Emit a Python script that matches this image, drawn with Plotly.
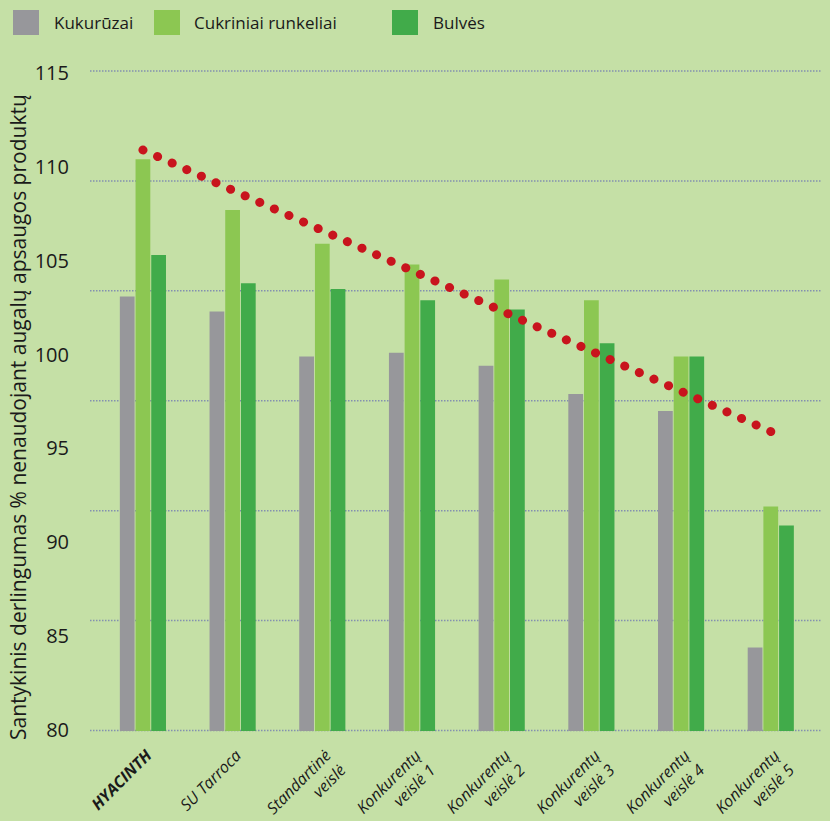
import plotly.graph_objects as go

categories = ["HYACINTH", "SU Tarroca", "Standartinė veislė", "Konkurentų veislė 1",
              "Konkurentų veislė 2", "Konkurentų veislė 3", "Konkurentų veislė 4",
              "Konkurentų veislė 5"]
tick_labels = ["<b>HYACINTH</b>", "SU Tarroca", "Standartinė<br>veislė",
               "Konkurentų<br>veislė 1", "Konkurentų<br>veislė 2", "Konkurentų<br>veislė 3",
               "Konkurentų<br>veislė 4", "Konkurentų<br>veislė 5"]
series_names = ["Kukurūzai", "Cukriniai runkeliai", "Bulvės"]
kukuruzai = [103.1, 102.3, 99.9, 100.1, 99.4, 97.9, 97.0, 84.4]
cukriniai = [110.4, 107.7, 105.9, 104.8, 104.0, 102.9, 99.9, 91.9]
bulves = [105.3, 103.8, 103.5, 102.9, 102.4, 100.6, 99.9, 90.9]
trend_x = [categories[0], categories[-1]]
trend_y = [110.9, 95.9]
y_ticks = [80, 85, 90, 95, 100, 105, 110, 115]
y_title = "Santykinis derlingumas % nenaudojant augalų apsaugos produktų"

colors = ["#97979b", "#8cc752", "#41ab4a"]
BG = "#c5e0a6"
FONT = "Open Sans"

W, H = 830, 821
ML, MR, MT, MB = 90, 9, 70, 90
PW, PH = W - ML - MR, H - MT - MB


def px_x(x):
    return (x - ML) / PW


def px_y(y):
    return (H - MB - y) / PH


fig = go.Figure()
for name, vals, col in zip(series_names, [kukuruzai, cukriniai, bulves], colors):
    fig.add_trace(go.Bar(x=categories, y=vals, name=name, marker_color=col,
                         marker_line_width=0, showlegend=False))

fig.add_trace(go.Scatter(x=trend_x, y=trend_y, mode="lines",
                         line=dict(color="#c8141d", width=9, dash="0.1px,15.9px"),
                         showlegend=False, hoverinfo="skip"))

# dotted horizontal guide lines (drawn behind the bars)
for k in range(7):
    gy = px_y(730.5 - k * 109.92)
    fig.add_shape(type="line", xref="paper", yref="paper", x0=0, x1=1, y0=gy, y1=gy,
                  layer="below", line=dict(color="#8390b0", width=1.5, dash="1.5px,1.5px"))

# custom legend (squares + labels)
leg_sq = [(13, 39), (154, 180), (392, 418)]
leg_tx = [52, 192, 431]
for (x0, x1), tx, name, col in zip(leg_sq, leg_tx, series_names, colors):
    fig.add_shape(type="rect", xref="paper", yref="paper",
                  x0=px_x(x0), x1=px_x(x1), y0=px_y(35), y1=px_y(10),
                  fillcolor=col, line_width=0)
    fig.add_annotation(xref="paper", yref="paper", x=px_x(tx), y=px_y(23),
                       xanchor="left", yanchor="middle", text=name, showarrow=False,
                       font=dict(family=FONT, size=17, color="#1a1a1a"))

fig.add_annotation(xref="paper", yref="paper", x=px_x(18), y=px_y(417),
                   text=y_title, textangle=-90, showarrow=False,
                   xanchor="center", yanchor="middle",
                   font=dict(family=FONT, size=21, color="#1a1a1a"))

fig.update_layout(
    width=W, height=H, autosize=False,
    margin=dict(l=ML, r=MR, t=MT, b=MB, autoexpand=False),
    paper_bgcolor=BG, plot_bgcolor=BG,
    barmode="group", bargap=0.475, bargroupgap=0.06,
    font=dict(family=FONT, color="#1a1a1a"),
    xaxis=dict(type="category", categoryorder="array", categoryarray=categories,
               range=[-0.59, 7.56], tickvals=categories, ticktext=tick_labels,
               tickangle=-45, showgrid=False, zeroline=False, showline=False,
               ticks="", ticklabelstandoff=11, ticklabelshift=4, automargin=False,
               tickfont=dict(family=FONT, size=16, style="italic", color="#1a1a1a")),
    yaxis=dict(range=[79.947, 115.16], tickvals=y_ticks, showgrid=False,
               zeroline=False, showline=False, ticks="", ticklabelstandoff=20,
               automargin=False,
               tickfont=dict(family=FONT, size=20, color="#1a1a1a")),
)

post = ("document.body.style.margin='0';"
        "document.querySelectorAll('.scatterlayer path.js-line')"
        ".forEach(function(p){p.style.strokeLinecap='round';});")
fig.write_html("out.html", post_script=post, config={"displayModeBar": False})
